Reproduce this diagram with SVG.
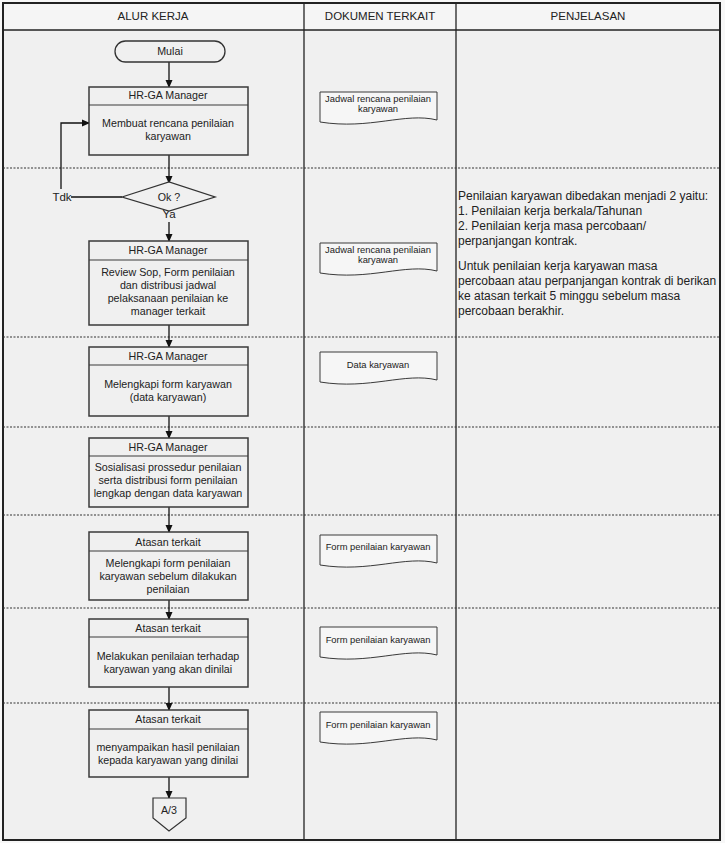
<svg xmlns="http://www.w3.org/2000/svg" width="725" height="843" viewBox="0 0 725 843">
<style>
text{font-family:"Liberation Sans",Arial,sans-serif;fill:#222}
.hd{font-size:11.5px;text-anchor:middle}
.bt{font-size:10.7px;text-anchor:middle}
.dt{font-size:9.4px;text-anchor:middle}
.rt{font-size:12px}
.box{fill:#f0f0f0;stroke:#3a3a3a;stroke-width:1.5}
.dv{stroke:#3a3a3a;stroke-width:1}
.doc{fill:#f6f6f6;stroke:#3a3a3a;stroke-width:1}
.dash{stroke:#333;stroke-width:1;stroke-dasharray:2,1.5}
.con{stroke:#111;stroke-width:1.3;fill:none}
</style>
<defs>
<marker id="ah" markerWidth="8" markerHeight="8" refX="7" refY="4" orient="auto" markerUnits="userSpaceOnUse">
<path d="M0,0.5 L8,4 L0,7.5 Z" fill="#111"/>
</marker>
</defs>
<rect x="0" y="0" width="725" height="843" fill="#f7f7f7"/>
<rect x="3" y="3" width="717" height="837" fill="#f0f0f0" stroke="#222" stroke-width="2"/>
<rect x="4" y="4" width="715" height="26" fill="#f5f5f5"/>
<line x1="3" y1="30" x2="720" y2="30" stroke="#222" stroke-width="1.3"/>
<line x1="304" y1="3" x2="304" y2="840" stroke="#222" stroke-width="1.3"/>
<line x1="456" y1="3" x2="456" y2="840" stroke="#222" stroke-width="1.3"/>
<text x="153" y="20" class="hd">ALUR KERJA</text>
<text x="380" y="20" class="hd">DOKUMEN TERKAIT</text>
<text x="588" y="20" class="hd">PENJELASAN</text>
<g id="lanes">
<line class="dash" x1="3" y1="168" x2="720" y2="168"/>
<line class="dash" x1="3" y1="337" x2="720" y2="337"/>
<line class="dash" x1="3" y1="427" x2="720" y2="427"/>
<line class="dash" x1="3" y1="515" x2="720" y2="515"/>
<line class="dash" x1="3" y1="608" x2="720" y2="608"/>
<line class="dash" x1="3" y1="703" x2="720" y2="703"/>
</g>
<g id="connectors">
<line class="con" x1="169" y1="62" x2="169" y2="87" marker-end="url(#ah)"/>
<line class="con" x1="169" y1="155" x2="169" y2="183" marker-end="url(#ah)"/>
<line class="con" x1="169" y1="222" x2="169" y2="241" marker-end="url(#ah)"/>
<line class="con" x1="169" y1="325" x2="169" y2="347" marker-end="url(#ah)"/>
<line class="con" x1="169" y1="416" x2="169" y2="438" marker-end="url(#ah)"/>
<line class="con" x1="169" y1="507" x2="169" y2="532" marker-end="url(#ah)"/>
<line class="con" x1="169" y1="600" x2="169" y2="619" marker-end="url(#ah)"/>
<line class="con" x1="169" y1="687" x2="169" y2="710" marker-end="url(#ah)"/>
<line class="con" x1="169" y1="777" x2="169" y2="798" marker-end="url(#ah)"/>
<polyline class="con" points="122,197 71,197"/>
<polyline class="con" points="61,189 61,123 89,123" marker-end="url(#ah)"/>
<text x="62" y="201" style="font-size:11.5px;text-anchor:middle">Tdk</text>
<text x="169" y="218" style="font-size:11.5px;text-anchor:middle">Ya</text>
</g>
<g id="mulai">
<rect x="115" y="41" width="110" height="21" rx="10.5" fill="#f0f0f0" stroke="#333" stroke-width="1.3"/>
<text x="170" y="55" class="bt">Mulai</text>
</g>
<g id="box1">
<rect class="box" x="89" y="87" width="159" height="68"/>
<line class="dv" x1="89" y1="105" x2="248" y2="105"/>
<text x="168" y="99" class="bt">HR-GA Manager</text>
<text x="168" y="127" class="bt">Membuat rencana penilaian</text>
<text x="168" y="140" class="bt">karyawan</text>
</g>
<g id="decision">
<polygon points="122,197 169,182 215,197 169,211" fill="#f0f0f0" stroke="#333" stroke-width="1.3"/>
<text x="169" y="201" class="bt">Ok ?</text>
</g>
<g id="box2">
<rect class="box" x="89" y="241" width="159" height="84"/>
<line class="dv" x1="89" y1="260" x2="248" y2="260"/>
<text x="168" y="254" class="bt">HR-GA Manager</text>
<text x="168" y="276" class="bt">Review Sop, Form penilaian</text>
<text x="168" y="289" class="bt">dan distribusi jadwal</text>
<text x="168" y="302" class="bt">pelaksanaan penilaian ke</text>
<text x="168" y="315" class="bt">manager terkait</text>
</g>
<g id="box3">
<rect class="box" x="89" y="347" width="159" height="69"/>
<line class="dv" x1="89" y1="365" x2="248" y2="365"/>
<text x="168" y="360" class="bt">HR-GA Manager</text>
<text x="168" y="388" class="bt">Melengkapi form karyawan</text>
<text x="168" y="401" class="bt">(data karyawan)</text>
</g>
<g id="box4">
<rect class="box" x="89" y="438" width="159" height="69"/>
<line class="dv" x1="89" y1="456" x2="248" y2="456"/>
<text x="168" y="451" class="bt">HR-GA Manager</text>
<text x="168" y="471" class="bt">Sosialisasi prossedur penilaian</text>
<text x="168" y="484" class="bt">serta distribusi form penilaian</text>
<text x="168" y="497" class="bt">lengkap dengan data karyawan</text>
</g>
<g id="box5">
<rect class="box" x="89" y="532" width="159" height="68"/>
<line class="dv" x1="89" y1="551" x2="248" y2="551"/>
<text x="168" y="546" class="bt">Atasan terkait</text>
<text x="168" y="567" class="bt">Melengkapi form penilaian</text>
<text x="168" y="580" class="bt">karyawan sebelum dilakukan</text>
<text x="168" y="593" class="bt">penilaian</text>
</g>
<g id="box6">
<rect class="box" x="89" y="619" width="159" height="68"/>
<line class="dv" x1="89" y1="637" x2="248" y2="637"/>
<text x="168" y="632" class="bt">Atasan terkait</text>
<text x="168" y="660" class="bt">Melakukan penilaian terhadap</text>
<text x="168" y="673" class="bt">karyawan yang akan dinilai</text>
</g>
<g id="box7">
<rect class="box" x="89" y="710" width="159" height="67"/>
<line class="dv" x1="89" y1="729" x2="248" y2="729"/>
<text x="168" y="723" class="bt">Atasan terkait</text>
<text x="168" y="751" class="bt">menyampaikan hasil penilaian</text>
<text x="168" y="764" class="bt">kepada karyawan yang dinilai</text>
</g>
<g id="offpage">
<polygon points="153,798 186,798 186,818 169,831 153,818" fill="#f0f0f0" stroke="#333" stroke-width="1.2"/>
<text x="169" y="814" class="bt">A/3</text>
</g>
<g id="doc1">
<path class="doc" d="M320,92 H437 V120 C405,112 370,130 320,122 Z"/>
<text x="378" y="102" class="dt">Jadwal rencana penilaian</text>
<text x="378" y="112" class="dt">karyawan</text>
</g>
<g id="doc2">
<path class="doc" d="M320,243 H437 V271 C405,263 370,281 320,273 Z"/>
<text x="378" y="253" class="dt">Jadwal rencana penilaian</text>
<text x="378" y="263" class="dt">karyawan</text>
</g>
<g id="doc3">
<path class="doc" d="M320,352 H437 V380 C405,372 370,390 320,382 Z"/>
<text x="378" y="368" class="dt">Data karyawan</text>
</g>
<g id="doc4">
<path class="doc" d="M320,535 H437 V563 C405,555 370,573 320,565 Z"/>
<text x="378" y="550" class="dt">Form penilaian karyawan</text>
</g>
<g id="doc5">
<path class="doc" d="M320,627 H437 V655 C405,647 370,665 320,657 Z"/>
<text x="378" y="643" class="dt">Form penilaian karyawan</text>
</g>
<g id="doc6">
<path class="doc" d="M320,712 H437 V740 C405,732 370,750 320,742 Z"/>
<text x="378" y="728" class="dt">Form penilaian karyawan</text>
</g>
<g id="penjelasan">
<text class="rt" x="458" y="200">Penilaian karyawan dibedakan menjadi 2 yaitu:</text>
<text class="rt" x="458" y="215">1. Penilaian kerja berkala/Tahunan</text>
<text class="rt" x="458" y="230">2. Penilaian kerja masa percobaan/</text>
<text class="rt" x="458" y="245">perpanjangan kontrak.</text>
<text class="rt" x="458" y="270">Untuk penilaian kerja karyawan masa</text>
<text class="rt" x="458" y="285">percobaan atau perpanjangan kontrak di berikan</text>
<text class="rt" x="458" y="300">ke atasan terkait 5 minggu sebelum masa</text>
<text class="rt" x="458" y="315">percobaan berakhir.</text>
</g>
</svg>
